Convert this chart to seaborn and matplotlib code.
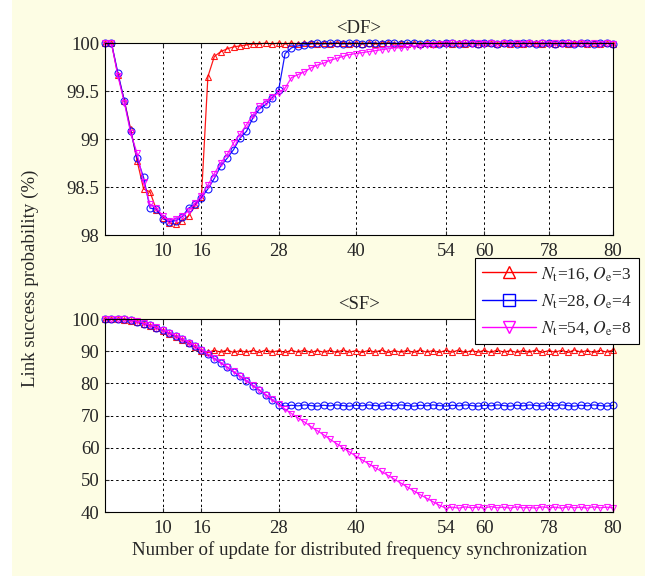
import matplotlib
matplotlib.use('Agg')
import matplotlib.pyplot as plt
import seaborn as sns
import pandas as pd
from matplotlib.lines import Line2D
from matplotlib.patches import Rectangle

# ---------------- data ----------------
updates = list(range(1, 81))

df_red = [100.00, 100.00, 99.67, 99.40, 99.10, 98.77, 98.48, 98.45, 98.26, 98.18,
          98.13, 98.11, 98.15, 98.20, 98.31, 98.40, 99.65, 99.86, 99.91, 99.94,
          99.96, 99.97, 99.98, 99.99, 99.99, 100.00, 99.99, 100.00, 99.99, 100.00,
          99.99, 100.00, 100.00, 99.99, 100.00, 99.99, 100.00, 100.00, 99.99, 100.00,
          99.99, 100.00, 99.99, 100.00, 100.00, 99.99, 100.00, 99.99, 100.00, 99.99,
          100.00, 99.99, 100.00, 100.00, 99.99, 100.00, 99.99, 100.00, 99.99, 100.00,
          100.00, 99.99, 100.00, 99.99, 100.00, 99.99, 100.00, 100.00, 99.99, 100.00,
          99.99, 100.00, 99.99, 100.00, 100.00, 99.99, 100.00, 99.99, 100.00, 99.99]

df_blue = [100.00, 100.00, 99.69, 99.40, 99.08, 98.80, 98.60, 98.28, 98.27, 98.17,
           98.14, 98.15, 98.19, 98.28, 98.32, 98.39, 98.48, 98.59, 98.72, 98.80,
           98.89, 99.01, 99.08, 99.22, 99.31, 99.36, 99.43, 99.51, 99.89, 99.95,
           99.97, 99.98, 99.99, 100.00, 99.99, 100.00, 100.00, 99.99, 100.00, 100.00,
           99.99, 100.00, 100.00, 99.99, 100.00, 100.00, 99.99, 100.00, 100.00, 99.99,
           100.00, 100.00, 99.99, 100.00, 100.00, 99.99, 100.00, 100.00, 99.99, 100.00,
           100.00, 99.99, 100.00, 100.00, 99.99, 100.00, 100.00, 99.99, 100.00, 100.00,
           99.99, 100.00, 100.00, 99.99, 100.00, 100.00, 99.99, 100.00, 100.00, 99.99]

df_mag = [100.00, 100.00, 99.66, 99.38, 99.06, 98.85, 98.55, 98.32, 98.28, 98.20,
          98.15, 98.17, 98.20, 98.25, 98.33, 98.41, 98.52, 98.64, 98.75, 98.84,
          98.96, 99.05, 99.15, 99.25, 99.34, 99.39, 99.44, 99.48, 99.53, 99.64,
          99.67, 99.70, 99.74, 99.77, 99.79, 99.82, 99.84, 99.86, 99.88, 99.89,
          99.90, 99.91, 99.92, 99.93, 99.94, 99.95, 99.95, 99.96, 99.97, 99.97,
          99.98, 99.98, 99.99, 99.99, 100.00, 99.99, 100.00, 99.99, 100.00, 99.99,
          100.00, 99.99, 100.00, 99.99, 100.00, 99.99, 100.00, 99.99, 100.00, 99.99,
          100.00, 99.99, 100.00, 99.99, 100.00, 99.99, 100.00, 99.99, 100.00, 99.99]

sf_red = [100.0, 100.0, 99.9, 99.8, 99.5, 99.1, 98.5, 97.9, 97.2, 96.4,
          95.5, 94.5, 93.5, 92.4, 91.3, 90.2, 89.6, 90.3, 89.7, 90.4,
          89.6, 90.2, 89.7, 90.3, 89.6, 90.4, 89.7, 90.2, 89.6, 90.3,
          89.7, 90.4, 89.6, 90.2, 89.7, 90.3, 89.6, 90.4, 89.7, 90.2,
          89.6, 90.3, 89.7, 90.4, 89.6, 90.2, 89.7, 90.3, 89.6, 90.4,
          89.7, 90.2, 89.6, 90.3, 89.7, 90.4, 89.6, 90.2, 89.7, 90.3,
          89.6, 90.4, 89.7, 90.2, 89.6, 90.3, 89.7, 90.4, 89.6, 90.2,
          89.7, 90.3, 89.6, 90.4, 89.7, 90.2, 89.6, 90.3, 89.7, 90.4]

sf_blue = [100.0, 100.0, 100.0, 99.9, 99.6, 99.2, 98.6, 98.0, 97.3, 96.5,
           95.6, 94.7, 93.7, 92.6, 91.5, 90.3, 89.0, 87.7, 86.4, 85.0,
           83.6, 82.2, 80.8, 79.3, 77.9, 76.4, 74.9, 73.4, 72.9, 73.2,
           73.0, 73.3, 73.1, 72.9, 73.2, 73.0, 73.3, 73.1, 72.9, 73.2,
           73.0, 73.3, 73.1, 72.9, 73.2, 73.0, 73.3, 73.1, 72.9, 73.2,
           73.0, 73.3, 73.1, 72.9, 73.2, 73.0, 73.3, 73.1, 72.9, 73.2,
           73.0, 73.3, 73.1, 72.9, 73.2, 73.0, 73.3, 73.1, 72.9, 73.2,
           73.0, 73.3, 73.1, 72.9, 73.2, 73.0, 73.3, 73.1, 72.9, 73.2]

sf_mag = [100.0, 100.0, 100.0, 99.9, 99.7, 99.3, 98.7, 98.1, 97.4, 96.6,
          95.7, 94.8, 93.8, 92.7, 91.6, 90.4, 89.1, 87.8, 86.5, 85.1,
          83.7, 82.3, 80.9, 79.4, 78.0, 76.5, 75.0, 73.5, 72.0, 70.6,
          69.3, 68.0, 66.6, 65.3, 64.0, 62.6, 61.3, 60.0, 58.7, 57.4,
          56.2, 55.0, 53.8, 52.6, 51.4, 50.2, 49.0, 47.8, 46.6, 45.4,
          44.3, 43.2, 42.1, 41.2, 41.5, 41.2, 41.6, 41.3, 41.5, 41.2,
          41.7, 41.3, 41.5, 41.2, 41.6, 41.3, 41.4, 41.2, 41.6, 41.3,
          41.5, 41.2, 41.6, 41.3, 41.5, 41.2, 41.6, 41.3, 41.5, 41.3]

series_labels = [r'$N_\mathrm{t}$=16, $O_\mathrm{e}$=3',
                 r'$N_\mathrm{t}$=28, $O_\mathrm{e}$=4',
                 r'$N_\mathrm{t}$=54, $O_\mathrm{e}$=8']
panel_titles = ['<DF>', '<SF>']
xtick_pos = [10, 16, 28, 40, 54, 60, 70, 80]
xtick_labels = ['10', '16', '28', '40', '54', '60', '78', '80']
df_yticks = [98, 98.5, 99, 99.5, 100]
df_ytick_labels = ['98', '98.5', '99', '99.5', '100']
sf_yticks = [40, 50, 60, 70, 80, 90, 100]
ylabel = 'Link success probability (%)'
xlabel = 'Number of update for distributed frequency synchronization'

# ---------------- style ----------------
sns.set_style('ticks')
plt.rcParams['font.family'] = ['Liberation Serif', 'DejaVu Serif']
plt.rcParams['mathtext.fontset'] = 'stix'

BG = '#FDFDE4'
colors = ['#FF0000', '#0000FF', '#FF00FF']
plot_markers = ['^', 'o', 'v']
legend_markers = ['^', 's', 'v']

fig = plt.figure(figsize=(6.45, 5.76), dpi=100, facecolor=BG)
fig.patches.append(Rectangle((0, 0), 12 / 645, 1, transform=fig.transFigure,
                             facecolor='white', edgecolor='none', zorder=-10))

ax1 = fig.add_axes([0.1628, 0.592, 0.7876, 0.3333])
ax2 = fig.add_axes([0.1628, 0.1111, 0.7876, 0.335])

panels = [(ax1, [df_red, df_blue, df_mag]), (ax2, [sf_red, sf_blue, sf_mag])]

for (ax, ys), title in zip(panels, panel_titles):
    ax.set_facecolor('white')
    for yv, lab, c, m in zip(ys, series_labels, colors, plot_markers):
        d = pd.DataFrame({'update': updates, 'prob': yv})
        sns.lineplot(data=d, x='update', y='prob', ax=ax, color=c, marker=m,
                     markersize=5, markerfacecolor='none', markeredgecolor=c,
                     markeredgewidth=0.8, linewidth=0.9, legend=False,
                     estimator=None, clip_on=False, alpha=0.9)
    ax.set_xlim(1, 80)
    ax.set_xticks(xtick_pos)
    ax.set_xticklabels(xtick_labels)
    ax.set_xlabel('')
    ax.set_ylabel('')
    ax.set_title(title, fontsize=13.5, pad=7)
    ax.grid(True, color='black', linestyle=(0, (2.5, 3)), linewidth=0.7)
    ax.set_axisbelow(True)
    ax.tick_params(direction='in', length=3, labelsize=13.5, top=True, right=True)
    ax.tick_params(axis='x', pad=6)
    ax.tick_params(axis='y', pad=4)
    for sp in ax.spines.values():
        sp.set_visible(True)
        sp.set_color('black')
        sp.set_linewidth(0.8)

ax1.set_ylim(98, 100)
ax1.set_yticks(df_yticks)
ax1.set_yticklabels(df_ytick_labels)
ax2.set_ylim(40, 100)
ax2.set_yticks(sf_yticks)

fig.text(0.047, 0.517, ylabel, rotation=90, ha='center', va='center', fontsize=13.6)
fig.text(0.558, 0.045, xlabel, ha='center', va='center', fontsize=13.6)

handles = [Line2D([0], [0], color=c, marker=m, markerfacecolor='none',
                  markeredgecolor=c, markersize=9, linewidth=1)
           for c, m in zip(colors, legend_markers)]
leg = fig.legend(handles, series_labels, loc='upper left',
                 bbox_to_anchor=(0.7364, 0.5521), frameon=True, fancybox=False,
                 edgecolor='black', framealpha=1, facecolor='white', fontsize=12.5,
                 handlelength=3.1, borderpad=0.4, labelspacing=0.55,
                 handletextpad=0.3, borderaxespad=0)
leg.get_frame().set_linewidth(0.8)

fig.savefig('out.png', dpi=100, facecolor=BG)
